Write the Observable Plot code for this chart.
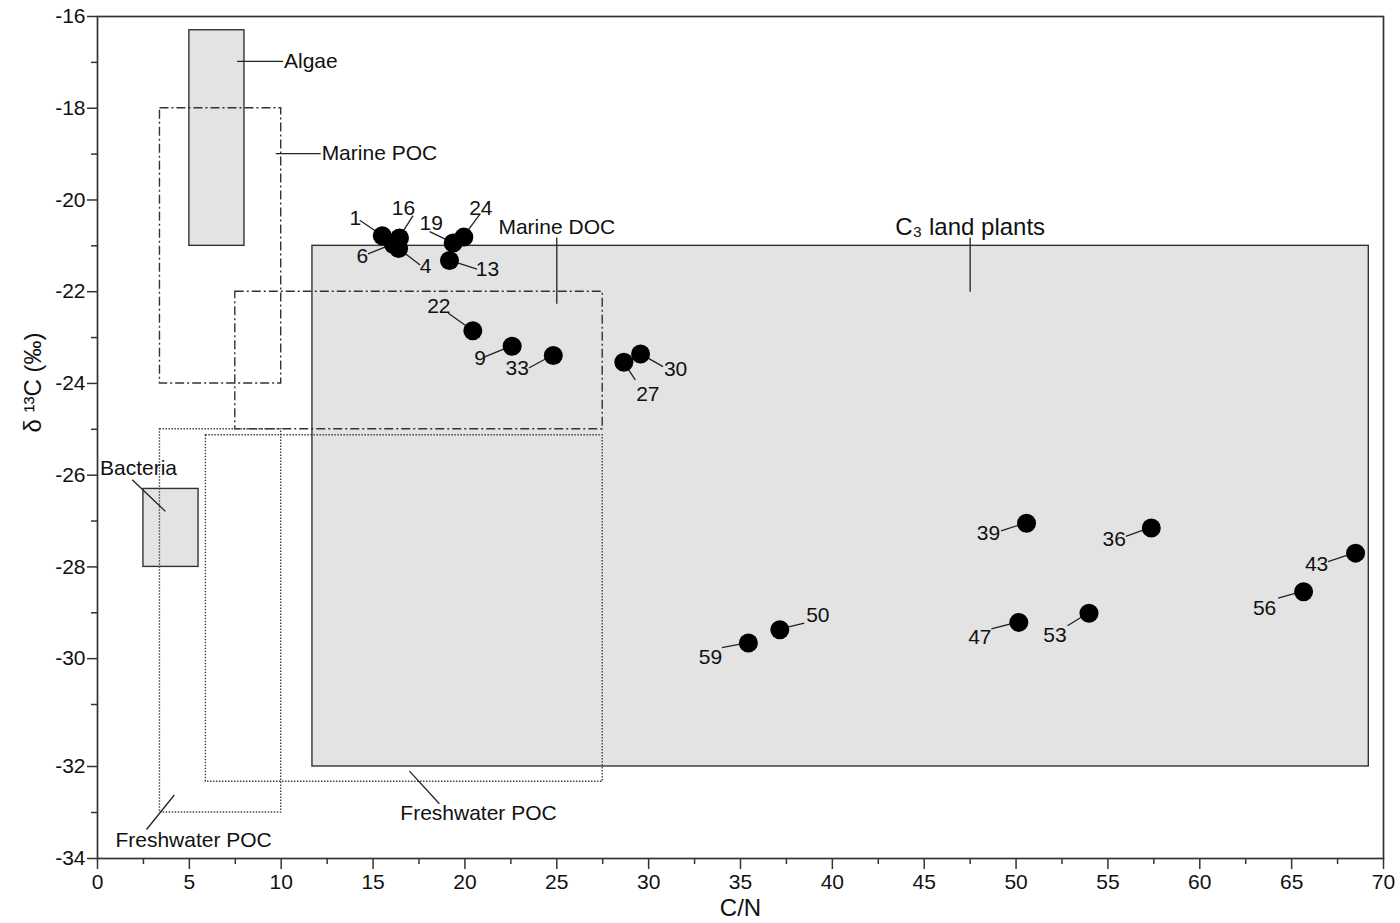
<!DOCTYPE html>
<html><head><meta charset="utf-8">
<script src="https://cdn.jsdelivr.net/npm/d3@7"></script>
<script src="https://cdn.jsdelivr.net/npm/@observablehq/plot@0.6"></script>
<style>body{margin:0;background:#fff} svg{display:block}</style>
</head><body><div id="chart"></div>
<script>
// ---- data ----
const sampleIds = ["1","16","19","24","6","4","13","22","9","33","27","30","39","36","43","56","53","47","50","59"];
const cnRatio   = [15.50,16.44,19.36,19.94,16.11,16.39,19.16,20.43,22.57,24.81,28.65,29.56,50.57,57.36,68.48,65.65,53.97,50.15,37.14,35.43];
const d13C      = [-20.78,-20.83,-20.94,-20.81,-20.97,-21.06,-21.32,-22.85,-23.19,-23.39,-23.54,-23.36,-27.05,-27.15,-27.70,-28.54,-29.01,-29.21,-29.37,-29.66];

// source end-member ranges
const filledNames = ["Algae","Bacteria","C3 land plants"];
const filledCN    = [[5,8],[2.5,5.5],[11.7,69.2]];
const filledD13C  = [[-21,-16.3],[-28,-26.3],[-32,-21]];

const marineNames = ["Marine POC","Marine DOC"];
const marineCN    = [[3.4,10],[7.5,27.5]];
const marineD13C  = [[-24,-18],[-25,-22]];

const freshNames  = ["Freshwater POC","Freshwater POC"];
const freshCN     = [[3.4,10],[5.9,27.5]];
const freshD13C   = [[-33,-25],[-32.33,-25.13]];

// annotation labels (data coordinates)
const annoText  = ["Algae","Marine POC","Marine DOC","C\u2083 land plants","Bacteria","Freshwater POC","Freshwater POC"];
const annoX     = [10.15,12.2,25.0,47.5,2.23,5.23,20.74];
const annoY     = [-16.98,-18.99,-20.6,-20.6,-25.86,-33.61,-33.02];
const annoLineX = [[7.6,10.1],[9.7,12.15],[25,25],[47.5,47.5],[1.89,3.70],[2.67,4.18],[16.98,18.61]];
const annoLineY = [[-16.98,-16.98],[-18.99,-18.99],[-20.82,-22.26],[-20.82,-22.0],[-26.10,-26.79],[-33.37,-32.62],[-32.10,-32.81]];

// axes ticks
const xTicks = d3.range(0, 71, 5);
const xMinor = d3.range(2.5, 70, 5);
const yTicks = d3.range(-34, -15, 2);
const yMinor = d3.range(-33, -16, 2);

// the reference's y axis is stretched between -31 and -32
const yBreaks = [-34, -32, -31, -16];
const yBreakPx = [0, 92, 154, 842];

// ---- layout (pixel offsets of point labels: label dx,dy, leader end dx,dy) ----
const labelLayout = [
  [-27,-17,-22,-15],[4,-30,14,-22],[-22,-20,-23,-11],[17,-29,17,-23],
  [-31,12,-25,10],[27,18,22,17],[38,9,28,9],[-34,-24,-24,-17],
  [-32,12,-27,11],[-36,13,-24,13],[24,32,12,18],[35,15,23,13],
  [-38,10,-25,8],[-37,11,-25,9],[-39,11,-27,9],[-39,17,-25,7],
  [-34,22,-21,13],[-39,15,-27,7],[38,-14,25,-6],[-38,14,-26,5]
];

const font = "Liberation Sans, Arial, Helvetica, sans-serif";
const ink = "#111";
const axisInk = "#333";

const yWarp = d3.scaleLinear()
  .domain(yBreaks)
  .range(yBreakPx.map(p => -34 + p * 18 / 842));

function leaderLines(index, scales) {
  const g = d3.create("svg:g").attr("stroke", "#222").attr("stroke-width", 1.3);
  sampleIds.forEach((id, i) => {
    const px = scales.x(cnRatio[i]), py = scales.y(yWarp(d13C[i]));
    const l = labelLayout[i];
    g.append("line").attr("x1", px).attr("y1", py).attr("x2", px + l[2]).attr("y2", py + l[3]);
  });
  return g.node();
}

const idx = n => d3.range(n);
const fmtY = d => String(Math.round(yWarp.invert(d)));

const chart = Plot.plot({
  width: 1400,
  height: 923,
  marginLeft: 97,
  marginRight: 17,
  marginTop: 16,
  marginBottom: 65,
  style: {fontFamily: font, fontSize: "21px", background: "#fff", color: ink},
  x: {domain: [0, 70]},
  y: {domain: [-34, -16], transform: yWarp},
  marks: [
    Plot.rect(idx(filledNames.length), {
      x1: i => filledCN[i][0], x2: i => filledCN[i][1],
      y1: i => filledD13C[i][0], y2: i => filledD13C[i][1],
      fill: "#e3e3e3", stroke: "#333", strokeWidth: 1.4
    }),
    Plot.rect(idx(marineNames.length), {
      x1: i => marineCN[i][0], x2: i => marineCN[i][1],
      y1: i => marineD13C[i][0], y2: i => marineD13C[i][1],
      fill: "none", stroke: "#333", strokeWidth: 1.4, strokeDasharray: "9,3,2,3"
    }),
    Plot.rect(idx(freshNames.length), {
      x1: i => freshCN[i][0], x2: i => freshCN[i][1],
      y1: i => freshD13C[i][0], y2: i => freshD13C[i][1],
      fill: "none", stroke: "#444", strokeWidth: 1.4, strokeDasharray: "1.5,1.5"
    }),
    Plot.link(idx(annoText.length), {
      x1: i => annoLineX[i][0], x2: i => annoLineX[i][1],
      y1: i => annoLineY[i][0], y2: i => annoLineY[i][1],
      stroke: "#222", strokeWidth: 1.3
    }),
    Plot.text(idx(annoText.length).filter(i => i < 2), {
      x: i => annoX[i], y: i => annoY[i], text: i => annoText[i],
      textAnchor: "start", fontSize: 21, fill: ink
    }),
    Plot.text(idx(annoText.length).filter(i => i >= 2), {
      x: i => annoX[i], y: i => annoY[i], text: i => annoText[i],
      textAnchor: "middle", fontSize: i => (i === 3 ? 24 : 21), fill: ink
    }),
    Plot.axisX({ticks: xMinor, tickSize: 6, tickFormat: () => "", stroke: axisInk, strokeWidth: 1.5}),
    Plot.axisX({ticks: xTicks, tickSize: 11, tickPadding: 5, tickFormat: d => String(d), fontSize: 21, fill: ink, stroke: axisInk, strokeWidth: 1.5, label: null}),
    Plot.axisY({ticks: yMinor.map(yWarp), tickSize: 6, tickFormat: () => "", stroke: axisInk, strokeWidth: 1.5}),
    Plot.axisY({ticks: yTicks.map(yWarp), tickSize: 10, tickPadding: 2, tickFormat: fmtY, fontSize: 21, fill: ink, stroke: axisInk, strokeWidth: 1.5, label: null}),
    Plot.frame({stroke: axisInk, strokeWidth: 1.7}),
    leaderLines,
    Plot.dot(idx(sampleIds.length), {x: i => cnRatio[i], y: i => d13C[i], r: 9.5, fill: "#000"}),
    ...sampleIds.map((id, i) => Plot.text([i], {
      x: j => cnRatio[j], y: j => d13C[j], text: j => sampleIds[j],
      dx: labelLayout[i][0], dy: labelLayout[i][1], fontSize: 21, fill: ink
    })),
    Plot.text(["C/N"], {frameAnchor: "bottom", lineAnchor: "middle", dy: 50, fontSize: 24, fill: ink}),
    Plot.text(["\u03B4 \u00B9\u00B3C (\u2030)"], {frameAnchor: "left", textAnchor: "middle", dx: -64, dy: -55, rotate: -90, fontSize: 24, fill: ink})
  ]
});
document.getElementById("chart").appendChild(chart);
</script>
</body></html>
